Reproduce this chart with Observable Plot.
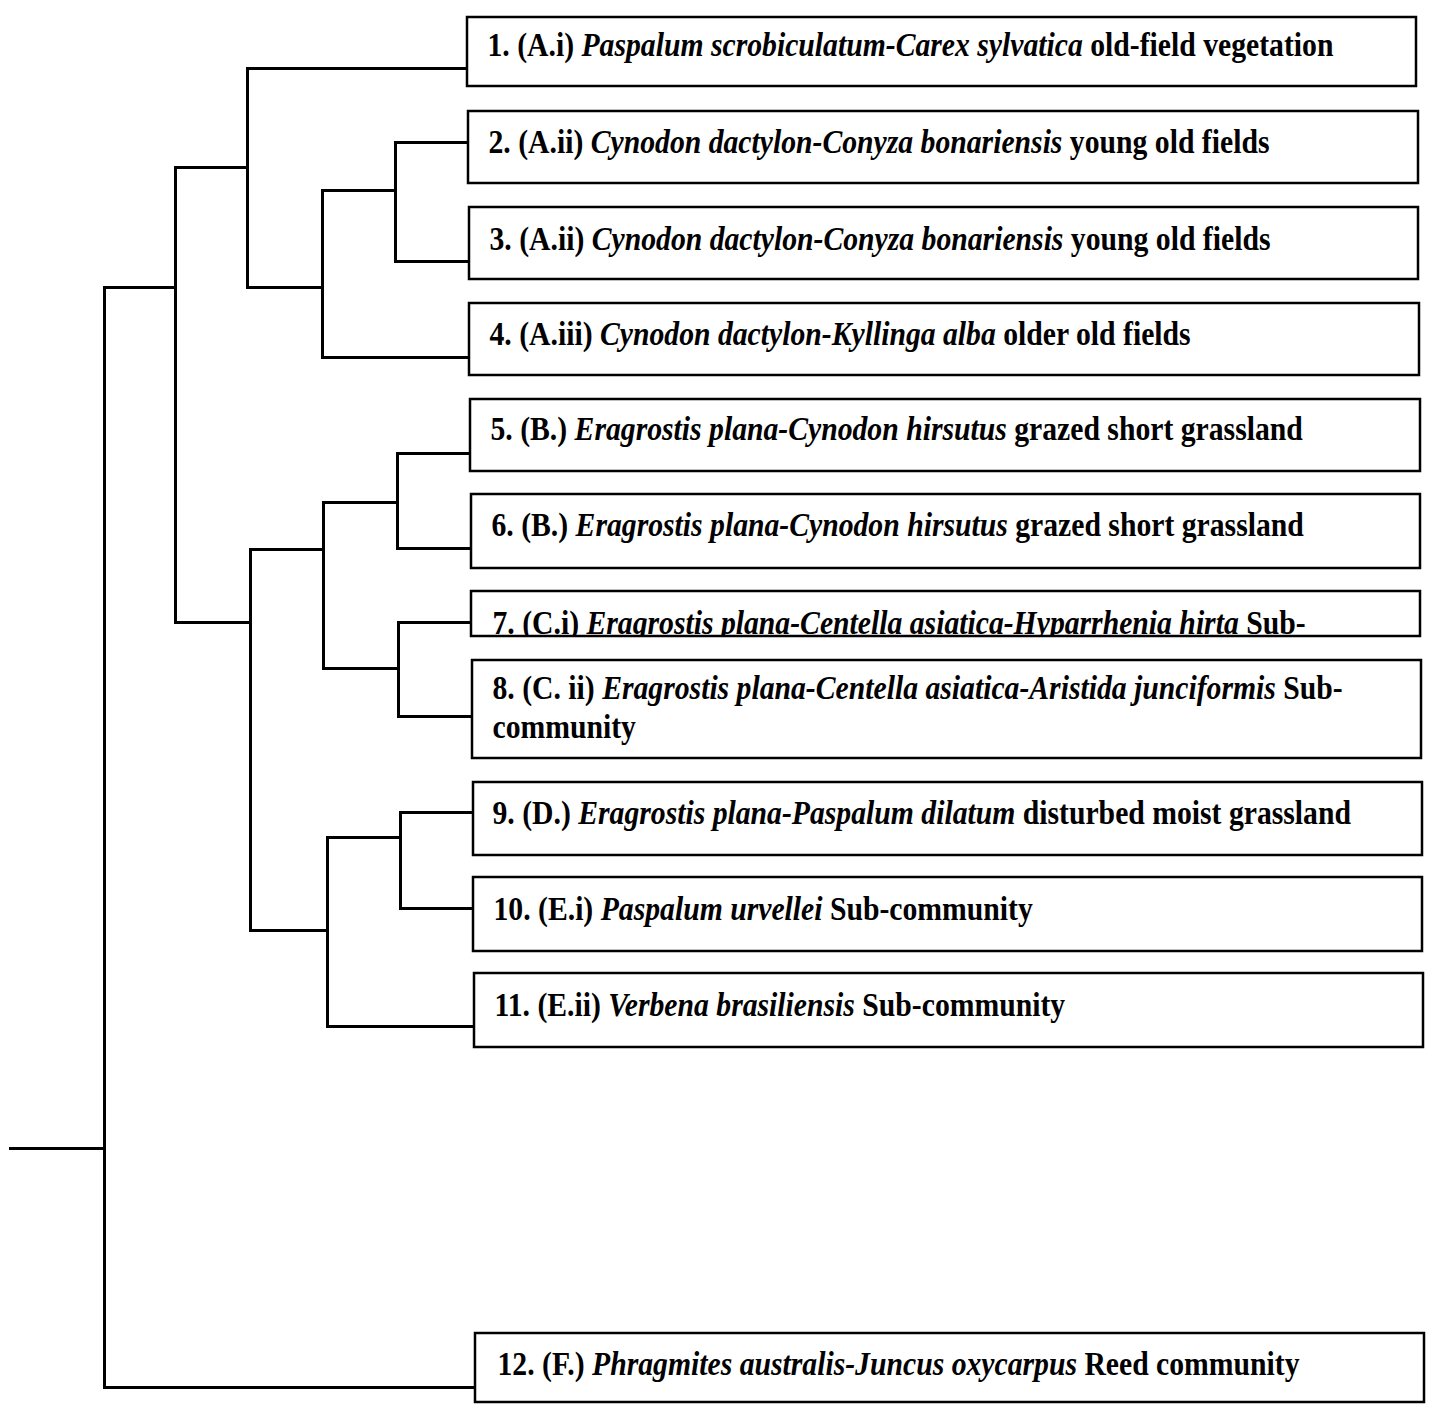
<!DOCTYPE html>
<html>
<head>
<meta charset="utf-8">
<script src="https://cdn.jsdelivr.net/npm/d3@7"></script>
<script src="https://cdn.jsdelivr.net/npm/@observablehq/plot@0.6"></script>
<style>
  html, body { margin: 0; padding: 0; background: #fff; }
  #chart svg { display: block; }
</style>
</head>
<body>
<div id="chart"></div>
<script>
// ---- Community labels (one per leaf of the dendrogram) ----
const codes = ["1. (A.i)", "2. (A.ii)", "3. (A.ii)", "4. (A.iii)", "5. (B.)", "6. (B.)",
  "7. (C.i)", "8. (C. ii)", "9. (D.)", "10. (E.i)", "11. (E.ii)", "12. (F.)"];
const species = [
  "Paspalum scrobiculatum-Carex sylvatica",
  "Cynodon dactylon-Conyza bonariensis",
  "Cynodon dactylon-Conyza bonariensis",
  "Cynodon dactylon-Kyllinga alba",
  "Eragrostis plana-Cynodon hirsutus",
  "Eragrostis plana-Cynodon hirsutus",
  "Eragrostis plana-Centella asiatica-Hyparrhenia hirta",
  "Eragrostis plana-Centella asiatica-Aristida junciformis",
  "Eragrostis plana-Paspalum dilatum",
  "Paspalum urvellei",
  "Verbena brasiliensis",
  "Phragmites australis-Juncus oxycarpus"];
const descriptors = ["old-field vegetation", "young old fields", "young old fields",
  "older old fields", "grazed short grassland", "grazed short grassland", "Sub-", "Sub-",
  "disturbed moist grassland", "Sub-community", "Sub-community", "Reed community"];
const continuation = ["", "", "", "", "", "", "", "community", "", "", "", ""];

// ---- Label boxes (figure units) ----
const boxLeft   = [467, 468, 469, 469, 470, 471, 471, 472, 473, 473, 474, 475];
const boxRight  = [1416, 1418, 1418, 1419, 1420, 1420, 1420, 1421, 1422, 1422, 1423, 1424];
const boxTop    = [17, 111, 207, 303, 399, 494, 591, 660, 782, 877, 973, 1333];
const boxBottom = [86, 183, 279, 375, 471, 568, 636, 758, 855, 951, 1047, 1402];
const textX        = [487, 488, 489, 489, 490, 491, 492, 492, 492, 493, 494, 497];
const textBaseline = [55, 152, 249, 344, 439, 535, 633, 698, 823, 919, 1015, 1374];
const contBaseline = [0, 0, 0, 0, 0, 0, 0, 737, 0, 0, 0, 0];

// ---- Dendrogram (hclust-style merges: negative = leaf, positive = earlier merge) ----
const merges = [[-2, -3], [1, -4], [-1, 2], [-5, -6], [-7, -8], [4, 5],
                [-9, -10], [7, -11], [6, 8], [3, 9], [10, -12]];
const mergeX = [395, 322, 247, 397, 398, 323, 400, 327, 250, 175, 104]; // linkage level
const mergeY = [190, 287, 167, 502, 668, 549, 837, 930, 622, 287, 1148]; // join point
const leafY  = [68, 142, 261, 357, 453, 548, 622, 716, 812, 908, 1026, 1387];
const rootStubX = 10;

// ---- Build the link segments from the merge table ----
const cx = c => c < 0 ? boxLeft[-c - 1] : mergeX[c - 1];
const cy = c => c < 0 ? leafY[-c - 1] : mergeY[c - 1];
const segments = [];
merges.forEach(([a, b], k) => {
  const x = mergeX[k];
  segments.push({x1: x, y1: cy(a), x2: x, y2: cy(b)});
  segments.push({x1: x, y1: cy(a), x2: cx(a), y2: cy(a)});
  segments.push({x1: x, y1: cy(b), x2: cx(b), y2: cy(b)});
});
const root = merges.length - 1;
segments.push({x1: rootStubX, y1: mergeY[root], x2: mergeX[root], y2: mergeY[root]});

const boxes = d3.range(codes.length).map(i => ({
  x1: boxLeft[i], x2: boxRight[i], y1: boxTop[i], y2: boxBottom[i]
}));

const rows = [];
codes.forEach((c, i) => {
  rows.push({box: i, x: textX[i], y: textBaseline[i],
    segs: [{t: c + " "}, {t: species[i], italic: true}, {t: " " + descriptors[i]}]});
  if (continuation[i]) rows.push({box: i, x: textX[i], y: contBaseline[i], segs: [{t: continuation[i]}]});
});
rows.forEach(r => r.plain = r.segs.map(s => s.t).join(""));

const fontScaleX = 0.90;

const plot = Plot.plot({
  width: 1433,
  height: 1404,
  margin: 0,
  x: {domain: [0, 1433], range: [0, 1433], axis: null},
  y: {domain: [0, 1404], range: [0, 1404], axis: null},
  style: {background: "white", overflow: "hidden"},
  marks: [
    Plot.link(segments, {x1: "x1", y1: "y1", x2: "x2", y2: "y2",
      stroke: "black", strokeWidth: 3, strokeLinecap: "square"}),
    Plot.rect(boxes, {x1: "x1", x2: "x2", y1: "y1", y2: "y2",
      fill: "white", stroke: "black", strokeWidth: 2.5}),
    Plot.text(rows, {x: "x", y: "y", text: "plain", textAnchor: "start", lineAnchor: "bottom",
      fontSize: 33, fontWeight: "bold", fill: "black",
      fontFamily: "'Liberation Serif', 'Times New Roman', Times, serif"})
  ]
});
document.getElementById("chart").appendChild(plot);

// ---- Rich text: italic species names, horizontal condensing, clipping to boxes ----
const ns = "http://www.w3.org/2000/svg";
const xs = plot.scale("x"), ys = plot.scale("y");
let defs = plot.querySelector("defs");
if (!defs) { defs = document.createElementNS(ns, "defs"); plot.insertBefore(defs, plot.firstChild); }
boxes.forEach((b, i) => {
  const cp = document.createElementNS(ns, "clipPath");
  cp.setAttribute("id", "boxclip-" + i);
  const r = document.createElementNS(ns, "rect");
  const x1 = xs.apply(b.x1), x2 = xs.apply(b.x2), y1 = ys.apply(b.y1), y2 = ys.apply(b.y2);
  r.setAttribute("x", x1 + 1.25); r.setAttribute("y", y1 + 1.25);
  r.setAttribute("width", x2 - x1 - 2.5); r.setAttribute("height", y2 - y1 - 2.5);
  cp.appendChild(r); defs.appendChild(cp);
});
const textEls = plot.querySelectorAll('g[aria-label="text"] text');
textEls.forEach((el, k) => {
  const r = rows[k];
  while (el.firstChild) el.removeChild(el.firstChild);
  el.style.whiteSpace = "pre";
  r.segs.forEach(s => {
    const t = document.createElementNS(ns, "tspan");
    if (s.italic) t.setAttribute("font-style", "italic");
    t.textContent = s.t;
    el.appendChild(t);
  });
  el.removeAttribute("x"); el.removeAttribute("y"); el.removeAttribute("dy");
  el.setAttribute("transform", `translate(${xs.apply(r.x)},${ys.apply(r.y)}) scale(${fontScaleX},1)`);
  const g = document.createElementNS(ns, "g");
  g.setAttribute("clip-path", `url(#boxclip-${r.box})`);
  el.parentNode.insertBefore(g, el);
  g.appendChild(el);
});
</script>
</body>
</html>
